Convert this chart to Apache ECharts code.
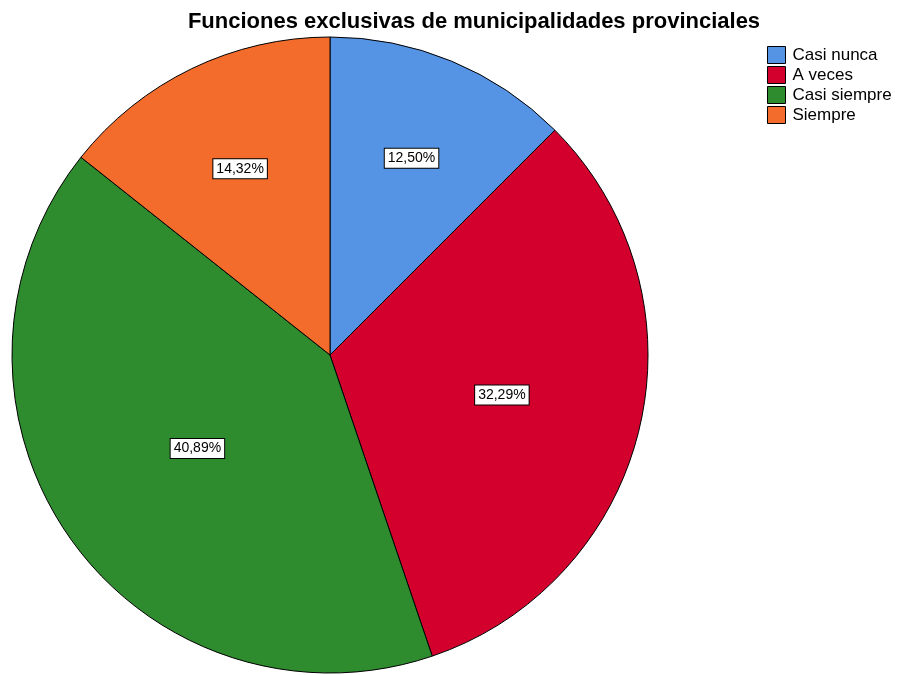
<!DOCTYPE html>
<html>
<head>
<meta charset="utf-8">
<script src="https://cdn.jsdelivr.net/npm/echarts@6/dist/echarts.min.js"></script>
<style>
  html, body { margin: 0; padding: 0; background: #fff; }
  #chart { width: 902px; height: 675px; }
</style>
</head>
<body>
<div id="chart"></div>
<script>
// datos
const categories = ['Casi nunca', 'A veces', 'Casi siempre', 'Siempre'];
const values = [12.50, 32.29, 40.89, 14.32];
const colors = ['#5593E4', '#D3002E', '#2E8B2E', '#F36C2B'];
// distancia relativa de cada etiqueta al centro (como en el original)
const labelRatio = [0.67, 0.555, 0.51, 0.65];

const cx = 330, cy = 355, R = 318;
const total = values.reduce((a, b) => a + b, 0);

const chart = echarts.init(document.getElementById('chart'));
chart.setOption({
  animation: false,
  title: {
    text: 'Funciones exclusivas de municipalidades provinciales',
    left: 469,
    textAlign: 'center',
    top: 6,
    textStyle: { fontFamily: 'Liberation Sans', fontSize: 22, fontWeight: 'bold', color: '#000' }
  },
  legend: {
    orient: 'vertical',
    left: 762,
    top: 41,
    itemWidth: 18,
    itemHeight: 17,
    itemGap: 2,
    icon: 'rect',
    itemStyle: { borderColor: '#000', borderWidth: 1 },
    textStyle: { fontFamily: 'Liberation Sans', fontSize: 17, color: '#000', padding: [0, 0, 0, 2] },
    data: categories
  },
  series: [{
    type: 'pie',
    center: [cx, cy],
    radius: [0, R],
    startAngle: 90,
    clockwise: true,
    silent: true,
    itemStyle: { borderColor: '#000', borderWidth: 1 },
    label: {
      position: 'inside',
      formatter: p => p.value.toFixed(2).replace('.', ',') + '%',
      fontFamily: 'Liberation Sans',
      fontSize: 14,
      color: '#000',
      backgroundColor: '#fff',
      borderColor: '#000',
      borderWidth: 1,
      padding: [3, 3, 2, 3]
    },
    labelLayout: function (params) {
      const i = params.dataIndex;
      let before = 0;
      for (let k = 0; k < i; k++) before += values[k];
      const mid = (before + values[i] / 2) / total * 2 * Math.PI;
      const r = R * labelRatio[i];
      return { x: cx + r * Math.sin(mid), y: cy - r * Math.cos(mid) };
    },
    data: categories.map((c, i) => ({ name: c, value: values[i], itemStyle: { color: colors[i] } }))
  }]
});
</script>
</body>
</html>
